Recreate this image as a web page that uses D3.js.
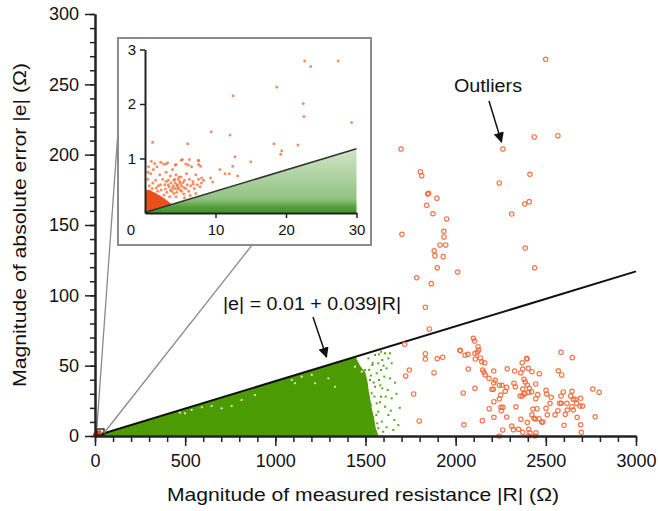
<!DOCTYPE html>
<html>
<head>
<meta charset="utf-8">
<script src="https://cdn.jsdelivr.net/npm/d3@7"></script>
<style>
  body { margin: 0; background: #fff; }
  text { font-family: "Liberation Sans", Arial, Helvetica, sans-serif; fill: #111; }
</style>
</head>
<body>
<div id="chart"></div>
<script>
// ---- data ----
const xTicks = [0, 500, 1000, 1500, 2000, 2500, 3000];
const yTicks = [0, 50, 100, 150, 200, 250, 300];
const insetXTicks = [10, 20, 30];
const insetYTicks = [1, 2, 3];

// fitted bound |e| = a + b|R|
const fitA = 0.01, fitB = 0.039;

// outline of the solid green mass (points under the bound)
const greenBody = [[0, 0], [0, 0.01], [1445, 56.4], [1470, 50], [1500, 45], [1512, 38], [1518, 32],
  [1528, 25], [1536, 19], [1548, 12], [1556, 6], [1572, 0]];
// green points scattered right of the mass
const greenStray = [[1608, 58.8], [1627, 55.2], [1593, 54.0], [1571, 51.7], [1645, 51.7], [1617, 48.1],
  [1586, 46.9], [1562, 44.6], [1604, 42.2], [1636, 41.0], [1664, 37.9], [1575, 39.8], [1553, 35.0],
  [1593, 33.9], [1623, 32.7], [1645, 26.8], [1586, 27.9], [1562, 23.2], [1608, 20.8], [1571, 17.3],
  [1627, 14.9], [1660, 11.4], [1543, 13.7], [1590, 10.2], [1617, 6.2], [1654, 4.3], [1571, 5.5],
  [1556, 1.9], [1534, 30.4], [1525, 39.8], [1538, 50.5], [1553, 57.6], [1516, 55.2], [1497, 46.9],
  [1682, 7.8], [1586, 59.9], [1636, 58.8], [1690, 20], [1672, 30], [1598, 3], [1640, 18],
  [1520, 47], [1530, 43], [1545, 38], [1550, 28], [1560, 15], [1565, 9], [1580, 24], [1582, 36],
  [1600, 50], [1612, 28], [1540, 52], [1575, 58], [1530, 22], [1545, 5]];
// empty spots inside the green mass
const greenGaps = [[471, 16.6], [499, 16.1], [536, 18.5], [592, 20.4], [647, 21.3], [702, 19.7],
  [758, 21.3], [813, 25.6], [887, 29.1], [1091, 39.8], [1109, 37.5], [1146, 42.2], [1202, 43.4],
  [1220, 37.5], [1294, 41.0], [1331, 35.0], [1442, 49.3], [1479, 45.7], [1516, 42.2]];

// orange outliers
const outliers = [[2499, 267.8], [2567, 213.5], [2436, 212.6], [1697, 204.0], [2262, 204.0], [2412, 186.0],
  [2242, 179.9], [1804, 187.9], [1812, 185.0], [1845, 172.0], [1850, 172.5], [1896, 169.0], [1839, 164.0],
  [1874, 158.0], [1950, 154.3], [1702, 143.4], [1934, 145.5], [1935, 141.5], [1913, 135.8], [1945, 135.8],
  [1881, 131.7], [1885, 128.2], [1931, 127.5], [1898, 119.6], [2011, 116.6], [1784, 112.5], [1865, 108.3],
  [1832, 91.5], [2408, 166.6], [2383, 164.9], [2311, 157.8], [2386, 133.6], [2438, 119.6],
  [1854, 76.1], [1717, 65.2], [1832, 58.5], [1832, 54.7], [1898, 55.0], [1928, 55.9], [1743, 46.9],
  [1880, 45.0], [1723, 42.7], [1767, 29.9], [1798, 10.7], [2046, 8.0], [2042, 30.6], [2070, 47.6],
  [2024, 60.9], [2026, 60.7], [2098, 69.5], [2105, 67.5], [2052, 57.4], [2068, 58.1], [2124, 63.5],
  [2128, 61.1], [2120, 59.5], [2107, 58.8], [2109, 54.7], [2137, 55.5], [2145, 52.8], [2161, 52.1],
  [2150, 46.9], [2157, 45.3], [2164, 43.4], [2211, 46.2], [2185, 41.0], [2211, 37.9], [2220, 39.6],
  [2286, 47.8], [2327, 46.2], [2369, 52.1], [2395, 54.7], [2372, 47.6], [2361, 45.0], [2403, 48.1],
  [2423, 45.7], [2464, 44.3], [2379, 40.3], [2386, 38.4], [2397, 36.3], [2444, 37.0], [2408, 33.9],
  [2421, 31.5], [2372, 33.4], [2379, 30.4], [2323, 37.5], [2331, 35.0], [2283, 34.6], [2242, 36.0],
  [2257, 36.0], [2209, 33.2], [2201, 33.2], [2250, 29.1], [2275, 31.8], [2242, 26.3], [2212, 24.4],
  [2186, 19.4], [2251, 20.4], [2262, 20.4], [2253, 18.0], [2334, 20.8], [2357, 28.4], [2369, 28.4],
  [2383, 29.9], [2405, 31.1], [2455, 29.4], [2444, 26.5], [2501, 32.5], [2505, 29.9], [2597, 31.3],
  [2645, 31.8], [2638, 28.4], [2652, 26.1], [2584, 28.4], [2663, 26.1], [2693, 26.8], [2530, 27.5],
  [2523, 23.2], [2577, 23.2], [2586, 23.2], [2617, 23.2], [2671, 23.2], [2689, 21.3], [2704, 21.3],
  [2645, 20.8], [2652, 18.5], [2619, 18.5], [2567, 18.0], [2501, 19.7], [2451, 19.4], [2429, 19.2],
  [2423, 15.1], [2434, 12.6], [2442, 12.1], [2462, 12.3], [2477, 10.0], [2484, 10.0], [2508, 15.1],
  [2551, 15.1], [2608, 15.4], [2674, 13.3], [2761, 33.4], [2796, 31.1], [2774, 13.7], [2601, 7.6],
  [2693, 8.0], [2697, 2.6], [2212, 13.3], [2283, 13.5], [2362, 11.9], [2397, 9.7], [2148, 10.9],
  [2311, 7.1], [2320, 4.5], [2349, 4.8], [2372, 2.6], [2405, 4.8], [2412, 2.3], [2445, 2.3],
  [2261, 4.3], [2242, 0], [2403, 0.2], [2440, 0], [2107, 33.9], [2584, 59.5], [2647, 55.7],
  [2569, 46.4], [2588, 43.4], [2394, 55.2]];

// inset (0-30 Ohm) : green mass under the bound, solid orange core, orange points
const insetGreenBody = [[0, 0], [30, 0], [30, 1.18], [0, 0.01]];
const insetOrangeCore = [[0, 0.01], [0, 0.42], [0.6, 0.42], [1.4, 0.37], [2.2, 0.31], [2.8, 0.26],
  [3.4, 0.2], [3.8, 0.16], [2, 0.088]];
const insetOrange = [[22.65, 2.79], [23.5, 2.69], [27.4, 2.79], [18.7, 2.31], [22.45, 2.01], [22.55, 1.77],
  [29.3, 1.66], [18.3, 1.27], [21.7, 1.25], [19.4, 1.14], [19.25, 1.08], [15.0, 0.94], [12.5, 2.15],
  [9.4, 1.49], [12.06, 1.43], [1.09, 1.30], [6.05, 1.27], [12.77, 1.03], [10.64, 0.80], [11.35, 0.72],
  [11.96, 0.72], [13.15, 0.68], [12.44, 0.86], [7.56, 0.97], [7.6, 0.89], [5.15, 0.97], [6.14, 0.88],
  [4.4, 0.89], [2.23, 0.93], [1.37, 0.91], [2.98, 0.90], [9.3, 0.64], [9.6, 0.57], [8.04, 0.64],
  [6.85, 0.53], [0.43, 0.75],
  [0.4, 0.62], [0.6, 0.5], [0.8, 0.72], [1.0, 0.45], [1.2, 0.8], [1.5, 0.6], [1.7, 0.85], [1.9, 0.5],
  [2.1, 0.7], [2.3, 0.42], [2.5, 0.62], [2.6, 0.9], [2.8, 0.52], [3.0, 0.75], [3.1, 0.38], [3.3, 0.6],
  [3.4, 0.48], [3.6, 0.68], [3.7, 0.55], [3.8, 0.4], [3.9, 0.8], [4.0, 0.5], [4.1, 0.6], [4.2, 0.45],
  [4.3, 0.55], [4.4, 0.7], [4.5, 0.38], [4.6, 0.52], [4.7, 0.62], [4.8, 0.47], [4.9, 0.58], [5.0, 0.42],
  [5.1, 0.66], [5.2, 0.5], [5.3, 0.98], [5.4, 0.56], [5.5, 0.35], [5.6, 0.6], [5.8, 0.45], [5.9, 0.72],
  [6.0, 0.52], [6.2, 0.4], [6.3, 0.62], [6.5, 0.5], [6.6, 0.85], [6.8, 0.58], [7.0, 0.45], [7.2, 0.7],
  [7.4, 0.52], [7.6, 0.62], [7.8, 0.48], [8.0, 0.55], [8.3, 0.6], [2.0, 0.3], [1.4, 0.35], [2.7, 0.33],
  [3.5, 0.3], [4.4, 0.3], [5.6, 0.28], [6.4, 0.32], [7.2, 0.36], [0.9, 0.95], [3.2, 0.92], [4.3, 0.88],
  [5.8, 0.9], [6.3, 0.98], [7.6, 0.96], [7.9, 0.86], [2.4, 0.2], [3.9, 0.46], [4.6, 0.44], [5.0, 0.54],
  [4.1, 0.36], [3.3, 0.52], [4.8, 0.66], [5.5, 0.47], [2.9, 0.44], [1.8, 0.4], [1.1, 0.55], [0.7, 0.4],
  [3.6, 0.42], [4.2, 0.62], [4.5, 0.5], [5.2, 0.4], [3.0, 0.58], [2.2, 0.52], [1.6, 0.46], [0.5, 0.85]];

// zoom marker on the main chart, in data units
const zoomBoxR = [10, 50], zoomBoxE = [0.7, 5];

// ---- layout ----
const W = 658, H = 511;
const x = d3.scaleLinear().domain([0, 3000]).range([95, 636]);
const y = d3.scaleLinear().domain([0, 300]).range([436, 14]);
const inset = { x: 118, y: 38, w: 253, h: 207 };
const ix = d3.scaleLinear().domain([0, 30]).range([145, 356.5]);
const iy = d3.scaleLinear().domain([0, 3]).range([213, 49.5]);
const fmt = d3.format("d");

const svg = d3.select("#chart").append("svg").attr("width", W).attr("height", H);
const defs = svg.append("defs");

const grad = defs.append("linearGradient").attr("id", "insetGreen")
  .attr("x1", 0).attr("y1", 1).attr("x2", 0).attr("y2", 0);
grad.append("stop").attr("offset", "0%").attr("stop-color", "#3f9528").attr("stop-opacity", 1);
grad.append("stop").attr("offset", "9%").attr("stop-color", "#47992e").attr("stop-opacity", 0.95);
grad.append("stop").attr("offset", "22%").attr("stop-color", "#55a23a").attr("stop-opacity", 0.65);
grad.append("stop").attr("offset", "100%").attr("stop-color", "#6aad4e").attr("stop-opacity", 0.32);

const arrowDef = defs.append("marker").attr("id", "arrow")
  .attr("viewBox", "0 0 10 10").attr("refX", 9).attr("refY", 5)
  .attr("markerWidth", 7).attr("markerHeight", 7).attr("orient", "auto-start-reverse");
arrowDef.append("path").attr("d", "M0,0 L10,5 L0,10 z").attr("fill", "#111");

const poly = (sx, sy) => d3.line().x(d => sx(d[0])).y(d => sy(d[1]));

// ---- main plot ----
svg.append("path").datum(greenBody).attr("d", poly(x, y).curve(d3.curveLinearClosed))
  .attr("fill", "#4c9a04");

svg.append("g").selectAll("circle").data(greenGaps).join("circle")
  .attr("cx", d => x(d[0])).attr("cy", d => y(d[1])).attr("r", 1.1).attr("fill", "#e8f2dc");

svg.append("g").selectAll("rect").data(greenStray).join("rect")
  .attr("x", d => x(d[0]) - 1).attr("y", d => y(d[1]) - 1).attr("width", 2).attr("height", 2)
  .attr("fill", "#5aa51a");

svg.append("line")
  .attr("x1", x(0)).attr("y1", y(fitA))
  .attr("x2", x(3000)).attr("y2", y(fitA + fitB * 3000))
  .attr("stroke", "#111").attr("stroke-width", 2);

svg.append("g").selectAll("circle").data(outliers).join("circle")
  .attr("cx", d => x(d[0])).attr("cy", d => y(d[1])).attr("r", 2.2)
  .attr("fill", "none").attr("stroke", "#f0683a").attr("stroke-width", 1.2).attr("stroke-opacity", 0.9);

// small-value outliers collapse onto the origin in the main view
svg.append("g").selectAll("circle").data(insetOrange).join("circle")
  .attr("cx", d => x(d[0])).attr("cy", d => y(d[1])).attr("r", 1.8).attr("fill", "#e8541c");

// zoom square + connectors
svg.append("rect")
  .attr("x", x(zoomBoxR[0])).attr("y", y(zoomBoxE[1]))
  .attr("width", x(zoomBoxR[1]) - x(zoomBoxR[0])).attr("height", y(zoomBoxE[0]) - y(zoomBoxE[1]))
  .attr("fill", "none").attr("stroke", "#111").attr("stroke-width", 1.3);

svg.append("line")
  .attr("x1", x(zoomBoxR[0])).attr("y1", y(zoomBoxE[1]))
  .attr("x2", inset.x).attr("y2", inset.y + inset.h * 0.45)
  .attr("stroke", "#8a8a8a").attr("stroke-width", 1.3);
svg.append("line")
  .attr("x1", x(zoomBoxR[1])).attr("y1", y(zoomBoxE[0]) - 2)
  .attr("x2", inset.x + inset.w * 0.53).attr("y2", inset.y + inset.h)
  .attr("stroke", "#8a8a8a").attr("stroke-width", 1.3);

// ---- main axes ----
function styleAxis(g) {
  g.select(".domain").attr("stroke", "#222").attr("stroke-width", 2);
  g.selectAll(".tick line").attr("stroke", "#222").attr("stroke-width", 1.5);
}

svg.append("g").attr("transform", `translate(${x(0)},0)`)
  .call(d3.axisLeft(y).tickValues(d3.range(0, 301, 10)).tickSize(5).tickSizeOuter(0).tickFormat(""))
  .call(styleAxis);
const yAx = svg.append("g").attr("transform", `translate(${x(0)},0)`)
  .call(d3.axisLeft(y).tickValues(yTicks).tickSize(10).tickSizeOuter(0).tickPadding(6).tickFormat(fmt))
  .call(styleAxis);
yAx.selectAll("text").style("font-size", "18px").attr("fill", "#111");

svg.append("g").attr("transform", `translate(0,${y(0)})`)
  .call(d3.axisBottom(x).tickValues(d3.range(0, 3001, 100)).tickSize(6).tickSizeOuter(0).tickFormat(""))
  .call(styleAxis);
const xAx = svg.append("g").attr("transform", `translate(0,${y(0)})`)
  .call(d3.axisBottom(x).tickValues(xTicks).tickSize(10).tickSizeOuter(0).tickPadding(8).tickFormat(fmt))
  .call(styleAxis);
xAx.selectAll("text").style("font-size", "18px").attr("fill", "#111");

svg.append("text")
  .attr("x", 363).attr("y", 501).attr("text-anchor", "middle")
  .attr("textLength", 392).attr("lengthAdjust", "spacingAndGlyphs")
  .style("font-size", "18.5px")
  .text("Magnitude of measured resistance |R| (\u03A9)");

svg.append("text")
  .attr("transform", "translate(26,225) rotate(-90)").attr("text-anchor", "middle")
  .attr("textLength", 324).attr("lengthAdjust", "spacingAndGlyphs")
  .style("font-size", "18.5px")
  .text("Magnitude of absolute error |e| (\u03A9)");

// ---- annotations ----
svg.append("text")
  .attr("x", 223).attr("y", 310)
  .attr("textLength", 178).attr("lengthAdjust", "spacingAndGlyphs")
  .style("font-size", "17.5px")
  .text("|e| = 0.01 + 0.039|R|");
svg.append("line")
  .attr("x1", 313).attr("y1", 317).attr("x2", 326.5).attr("y2", 357)
  .attr("stroke", "#111").attr("stroke-width", 1.5).attr("marker-end", "url(#arrow)");

svg.append("text")
  .attr("x", 488).attr("y", 92).attr("text-anchor", "middle")
  .attr("textLength", 68).attr("lengthAdjust", "spacingAndGlyphs")
  .style("font-size", "18px")
  .text("Outliers");
svg.append("line")
  .attr("x1", 489).attr("y1", 101).attr("x2", 501.5).attr("y2", 142)
  .attr("stroke", "#111").attr("stroke-width", 1.5).attr("marker-end", "url(#arrow)");

// ---- inset ----
const gi = svg.append("g");
gi.append("rect")
  .attr("x", inset.x).attr("y", inset.y).attr("width", inset.w).attr("height", inset.h)
  .attr("fill", "#fff").attr("stroke", "#8c8c8c").attr("stroke-width", 2);

gi.append("path").datum(insetGreenBody).attr("d", poly(ix, iy).curve(d3.curveLinearClosed))
  .attr("fill", "url(#insetGreen)");

gi.append("g").selectAll("circle").data(insetOrange).join("circle")
  .attr("cx", d => ix(d[0])).attr("cy", d => iy(d[1])).attr("r", 1.5)
  .attr("fill", "#f06a32").attr("fill-opacity", 0.75);

gi.append("path").datum(insetOrangeCore).attr("d", poly(ix, iy).curve(d3.curveLinearClosed))
  .attr("fill", "#e8501a");

gi.append("line")
  .attr("x1", ix(0)).attr("y1", iy(fitA))
  .attr("x2", ix(30)).attr("y2", iy(fitA + fitB * 30))
  .attr("stroke", "#333").attr("stroke-width", 1.6);

const iyAx = gi.append("g").attr("transform", `translate(${ix(0)},0)`)
  .call(d3.axisLeft(iy).tickValues(insetYTicks).tickSize(5).tickSizeOuter(0).tickPadding(4).tickFormat(fmt))
  .call(styleAxis);
iyAx.selectAll("text").style("font-size", "15px").attr("fill", "#111");
const ixAx = gi.append("g").attr("transform", `translate(0,${iy(0)})`)
  .call(d3.axisBottom(ix).tickValues(insetXTicks).tickSize(5).tickSizeOuter(0).tickPadding(6).tickFormat(fmt))
  .call(styleAxis);
ixAx.selectAll("text").style("font-size", "15px").attr("fill", "#111");
gi.append("text")
  .attr("x", ix(0) - 14).attr("y", iy(0) + 22).attr("text-anchor", "middle")
  .style("font-size", "15px").text("0");
</script>
</body>
</html>
